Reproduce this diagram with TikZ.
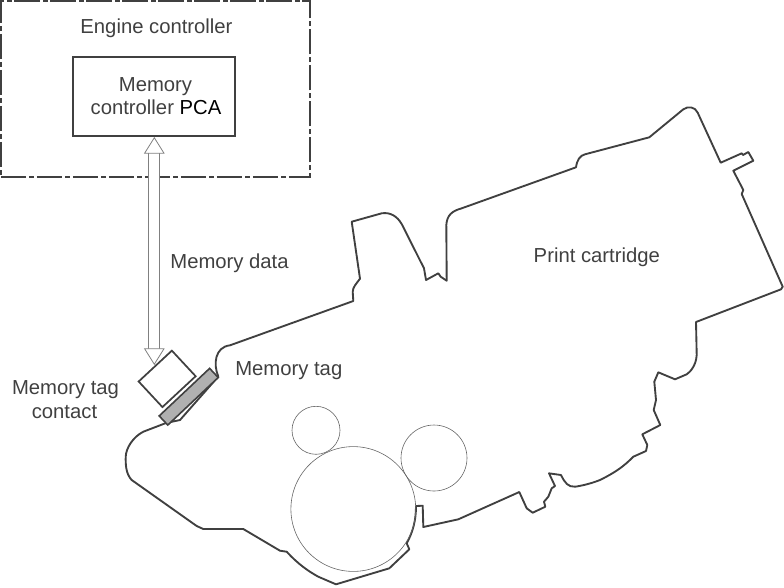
\documentclass[tikz,border=0pt]{standalone}
\usepackage{fontspec}
\setmainfont{Liberation Sans}
\usetikzlibrary{arrows.meta}
\definecolor{ink}{HTML}{404040}
\tikzset{
  lbl/.style={text=ink,font=\fontsize{15.2pt}{18pt}\selectfont,anchor=base,inner sep=0pt},
  body/.style={draw=ink,line width=1.4pt,line join=round},
  roller/.style={draw=ink!80,line width=0.45pt,circle,inner sep=0pt},
  dashbox/.style={draw=ink,line width=1.4pt,dash pattern=on 19pt off 2.2pt on 3.6pt off 2.2pt},
  solidbox/.style={draw=ink,line width=1.5pt,inner sep=0pt},
  databus/.style={draw=gray,line width=0.6pt,double=white,double distance=7.6pt,
    {Triangle[open,length=12.5pt,width=15.5pt,fill=white]}-{Triangle[open,length=12.5pt,width=15.5pt,fill=white]}}
}
\begin{document}
\begin{tikzpicture}[x=0.75pt,y=-0.75pt]
\useasboundingbox (0,0) rectangle (784,587);
\node[dashbox,minimum width=232pt,minimum height=132.2pt,inner sep=0pt] (engine) at (155.5,89) {};
\node[solidbox,minimum width=121.5pt,minimum height=59.5pt] (pca) at (154.3,96.3) {};
\node[solidbox,line width=1.3pt,minimum width=34pt,minimum height=26.2pt,rotate=42.9] (contact) at (167.15,378.85) {};
\coordinate (tipb) at (154.3,365);
\draw[databus] (pca.south) -- (tipb);
% cartridge outline
\draw[body] (218.3,376.5)
 .. controls (213,364) and (215,347) .. (230,345.3)
 -- (353.3,301) -- (352.7,291.7) .. controls (353,287) and (356,284) .. (360,278.7)
 -- (351.7,221.7) -- (381.7,213.3) .. controls (390,212) and (397,216) .. (401.7,224)
 -- (424,268.3) -- (426,280) -- (438.3,273.3) -- (440.7,276.7) -- (446.7,280.7)
 -- (446.3,225) .. controls (447,215) and (452,211) .. (461.7,208.3)
 -- (576,167.3) .. controls (577,160) and (580,155.5) .. (585,154.3)
 -- (649.3,137.3) -- (683.3,109.3) .. controls (688,106) and (695,106.5) .. (697.7,112.7)
 -- (720.7,162.7) -- (741.7,153.3) -- (743,155) -- (748.3,152) -- (753.3,160.7)
 -- (733.3,170.7) -- (743.3,190) -- (741.7,194) -- (782.7,286.7) -- (781,289.3)
 -- (696,322) -- (696.7,355) .. controls (696,366) and (690,372) .. (686.7,374.3)
 -- (675,379.3) -- (658.3,372.3) -- (654.3,381.7) -- (656,400) -- (653.7,410)
 -- (660.3,425) -- (642.3,434.3) -- (647.3,445) -- (646,451) -- (633.3,456.7)
 .. controls (625,465) and (618,471) .. (600,480)
 .. controls (590,484) and (580,486) .. (575,486.7)
 .. controls (568,487) and (565,483) .. (561,475)
 -- (549,473.3) -- (555,486) -- (551.7,488.3) -- (548.3,496.7) -- (544,501.7)
 -- (545.3,506.7) -- (532.7,512.7) -- (526.7,508.3) -- (519.3,492)
 -- (458.3,519.3) -- (423.3,527) -- (422.7,505.7) -- (416,506)
 .. controls (416,520) and (413,532) .. (406.7,543.3)
 -- (409.3,549.3) -- (389.3,568.3) -- (336,584.3) -- (318.3,576.7)
 .. controls (308,571) and (298,564) .. (286.7,551.7)
 -- (280,550.7) -- (243.3,529) -- (203.3,529) -- (196.7,526) -- (131.7,480)
 .. controls (126,474) and (125.5,465) .. (125.7,456.7)
 .. controls (126,448) and (133,437) .. (143.3,431.7)
 -- (166,423) -- (180,420) -- cycle;
\node[solidbox,line width=1.2pt,fill=gray!62,minimum width=52pt,minimum height=9.4pt,rotate=43.3] (tag) at (188.7,396.7) {};
\node[roller,minimum size=36pt] (r1) at (316,430.3) {};
\node[roller,minimum size=93.6pt] (r2) at (353.3,509) {};
\node[roller,minimum size=49.5pt] (r3) at (434,458) {};
\node[lbl] (t1) at (156.5,33.5) {Engine controller};
\node[lbl] (t2) at (155.5,91) {Memory};
\node[lbl] (t3) at (156,114.7) {controller \textcolor{black}{PCA}};
\node[lbl] (t4) at (229.5,268.3) {Memory data};
\node[lbl] (t5) at (596.8,262.6) {Print cartridge};
\node[lbl] (t6) at (288.8,375.7) {Memory tag};
\node[lbl] (t7) at (65.5,394.5) {Memory tag};
\node[lbl] (t8) at (64.5,418.5) {contact};
\end{tikzpicture}
\end{document}
